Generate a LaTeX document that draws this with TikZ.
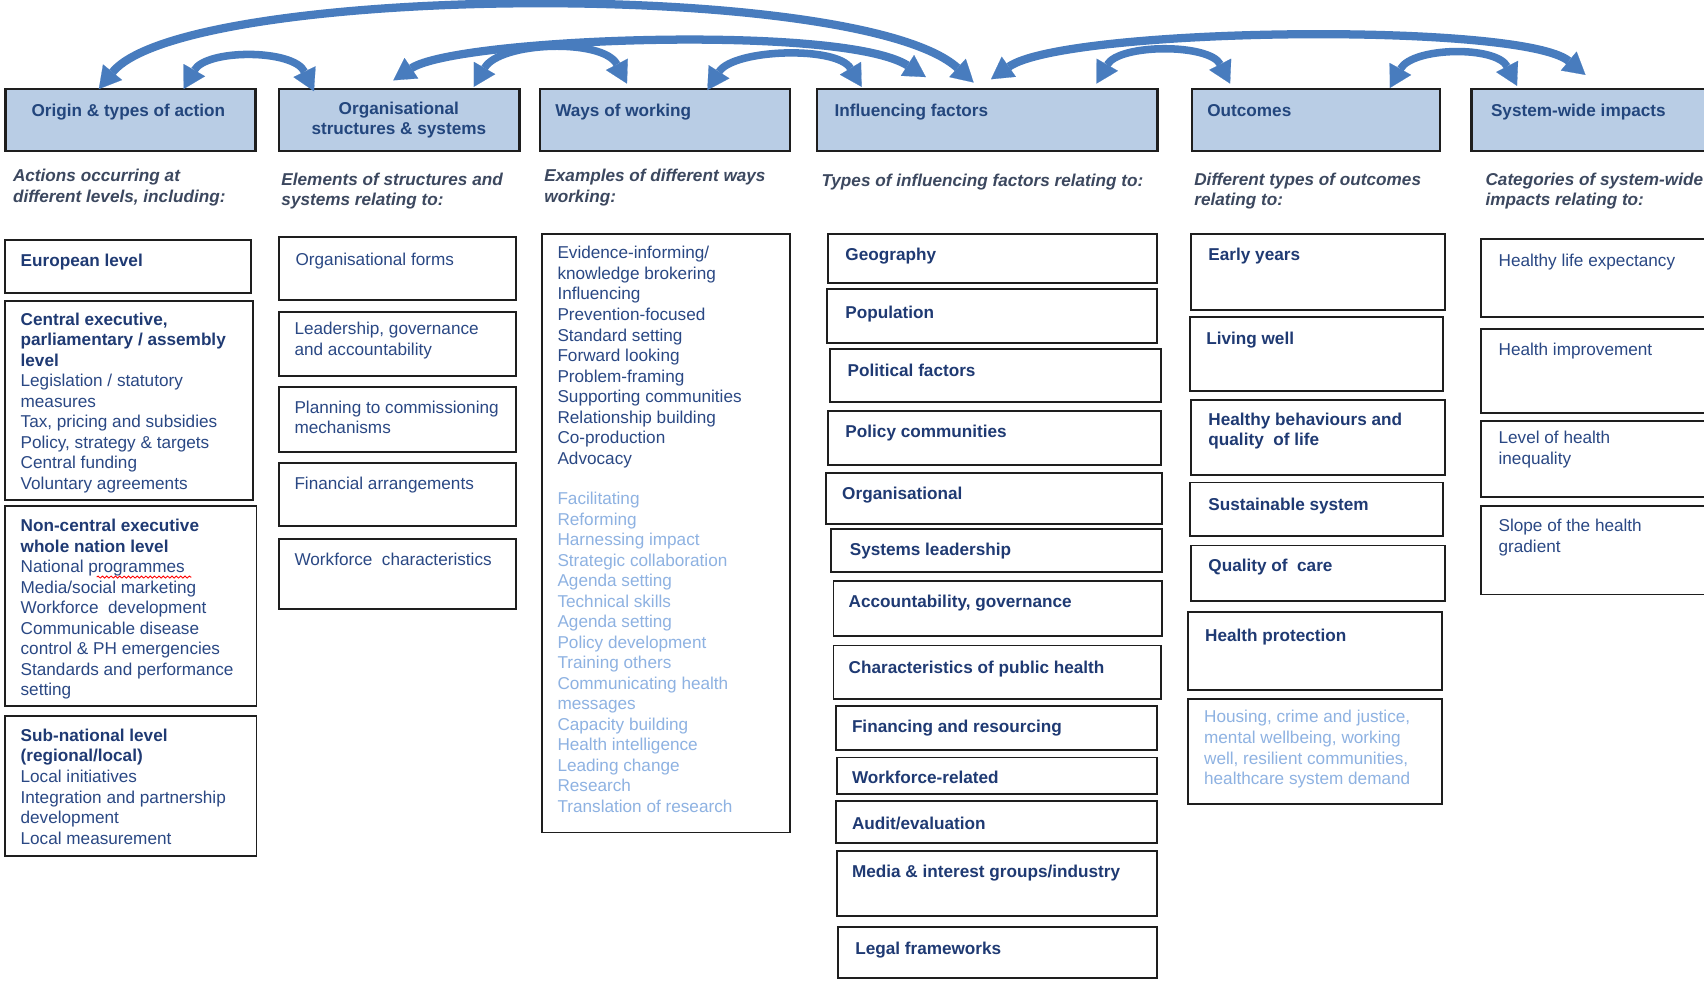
\documentclass[tikz,border=0pt]{standalone}
\usepackage{fontspec}
\setmainfont{Liberation Sans}
\usetikzlibrary{arrows.meta,fit,calc,decorations.pathmorphing}
\definecolor{hdrfill}{RGB}{185,205,229}
\definecolor{hdrtext}{RGB}{35,70,125}
\definecolor{subtext}{RGB}{60,72,95}
\definecolor{navy}{RGB}{31,58,115}
\definecolor{regblue}{RGB}{42,72,132}
\definecolor{lightblue}{RGB}{142,178,226}
\definecolor{arrowblue}{RGB}{72,124,190}
\definecolor{edge}{RGB}{30,30,30}
\newcommand\bodyfont{\fontsize{11.85pt}{14.17pt}\selectfont}
\newcommand\bl[1]{\textbf{\textcolor{navy}{#1}}}
\begin{document}
\begin{tikzpicture}[x=0.75pt,y=-0.75pt,
  hdr/.style={draw=edge, line width=1.6pt, fill=hdrfill, inner sep=0pt},
  bx/.style={draw=edge, line width=1.3pt, fill=white, inner sep=0pt},
  tx/.style={anchor=north west, yshift=4.65pt, inner sep=0pt, outer sep=0pt, align=left, text=regblue, font=\bodyfont, execute at begin node=\strut},
  btx/.style={tx, text=navy, font=\bodyfont\bfseries},
  ltx/.style={tx, text=lightblue},
  htx/.style={tx, text=hdrtext, font=\bodyfont\bfseries},
  stx/.style={tx, text=subtext, font=\bodyfont\bfseries\itshape},
  arr/.style={draw=arrowblue, line width=5.2pt, {Triangle[width=17pt,length=15pt,line width=0.1pt]}-{Triangle[width=17pt,length=15pt,line width=0.1pt]}},
  bigarr/.style={arr, line width=5.7pt},
  squig/.style={draw=red, line width=0.6pt, decorate, decoration={snake, amplitude=0.7pt, segment length=3pt}}
]
\useasboundingbox (0,0) rectangle (1568,904);
\clip (0,0) rectangle (1568,904);
\fill[white] (0,0) rectangle (1568,904);

% ---------- header boxes ----------
\node[hdr, fit={(5,82)(235,139)}] (h1) {};
\node[hdr, fit={(257,82)(478,139)}] (h2) {};
\node[hdr, fit={(497,82)(727,139)}] (h3) {};
\node[hdr, fit={(752,82)(1065,139)}] (h4) {};
\node[hdr, fit={(1097,82)(1325,139)}] (h5) {};
\node[hdr, fit={(1354,82)(1590,139)}] (h6) {};

\node[htx] (h1t) at (29,100) {Origin \& types of action};
\node[htx, anchor=north, align=center] (h2t) at (367,100) {Organisational\\structures \& systems};
\node[htx] (h3t) at (511,100) {Ways of working};
\node[htx] (h4t) at (768,100) {Influencing factors};
\node[htx] (h5t) at (1111,100) {Outcomes};
\node[htx] (h6t) at (1372,100) {System-wide impacts};

% ---------- subtitles ----------
\node[stx] (s1t) at (12,162) {Actions occurring at\\different levels, including:};
\node[stx] (s2t) at (259,165) {Elements of structures and\\systems relating to:};
\node[stx] (s3t) at (501,162) {Examples of different ways\\working:};
\node[stx] (s4t) at (756,165) {Types of influencing factors relating to:};
\node[stx] (s5t) at (1099,165) {Different types of outcomes\\relating to:};
\node[stx] (s6t) at (1367,165) {Categories of system-wide\\impacts relating to:};

% ---------- column 1 ----------
\node[bx, fit={(5,221)(231,270)}] (c1a) {};
\node[btx] (c1at) at (19,238) {European level};
\node[bx, fit={(5,277)(233,460)}] (c1b) {};
\node[tx] (c1bt) at (19,294) {\bl{Central executive,}\\\bl{parliamentary / assembly}\\\bl{level}\\Legislation / statutory\\measures\\Tax, pricing and subsidies\\Policy, strategy \& targets\\Central funding\\Voluntary agreements};
\node[bx, fit={(5,466)(236,650)}] (c1c) {};
\node[tx] (c1ct) at (19,484) {\bl{Non-central executive}\\\bl{whole nation level}\\National programmes\\Media/social marketing\\Workforce\ \ development\\Communicable disease\\control \& PH emergencies\\Standards and performance\\setting};
\draw[squig] (89,531) -- (176,531);
\node[bx, fit={(5,659)(236,788)}] (c1d) {};
\node[tx] (c1dt) at (19,677) {\bl{Sub-national level}\\\bl{(regional/local)}\\Local initiatives\\Integration and partnership\\development\\Local measurement};

% ---------- column 2 ----------
\node[bx, fit={(257,218)(475,276)}] (c2a) {};
\node[tx] (c2at) at (272,237) {Organisational forms};
\node[bx, fit={(257,287)(475,346)}] (c2b) {};
\node[tx] (c2bt) at (271,303) {Leadership, governance\\and accountability};
\node[bx, fit={(257,356)(475,416)}] (c2c) {};
\node[tx] (c2ct) at (271,375) {Planning to commissioning\\mechanisms};
\node[bx, fit={(257,426)(475,484)}] (c2d) {};
\node[tx] (c2dt) at (271,443) {Financial arrangements};
\node[bx, fit={(257,496)(475,560)}] (c2e) {};
\node[tx] (c2et) at (271,513) {Workforce\ \ characteristics};

% ---------- column 3 ----------
\node[bx, fit={(499,215)(727,766)}] (c3) {};
\node[tx] (c3t) at (513,233) {Evidence-informing/\\knowledge brokering\\Influencing\\Prevention-focused\\Standard setting\\Forward looking\\Problem-framing\\Supporting communities\\Relationship building\\Co-production\\Advocacy};
\node[ltx] (c3l) at (513,459) {Facilitating\\Reforming\\Harnessing impact\\Strategic collaboration\\Agenda setting\\Technical skills\\Agenda setting\\Policy development\\Training others\\Communicating health\\messages\\Capacity building\\Health intelligence\\Leading change\\Research\\Translation of research};

% ---------- column 4 ----------
\node[bx, fit={(762,215)(1065,260)}] (f1) {};
\node[btx] (f1t) at (778,233) {Geography};
\node[bx, fit={(761,266)(1065,316)}] (f2) {};
\node[btx] (f2t) at (778,286) {Population};
\node[bx, fit={(764,321)(1068,370)}] (f3) {};
\node[btx] (f3t) at (780,339) {Political factors};
\node[bx, fit={(762,378)(1068,428)}] (f4) {};
\node[btx] (f4t) at (778,396) {Policy communities};
\node[bx, fit={(760,435)(1069,482)}] (f5) {};
\node[btx] (f5t) at (775,453) {Organisational};
\node[bx, fit={(765,487)(1069,526)}] (f6) {};
\node[btx] (f6t) at (782,504) {Systems leadership};
\node[bx, fit={(767,535)(1069,585)}] (f7) {};
\node[btx] (f7t) at (781,552) {Accountability, governance};
\node[bx, fit={(767,594)(1068,643)}] (f8) {};
\node[btx] (f8t) at (781,613) {Characteristics of public health};
\node[bx, fit={(769,650)(1065,690)}] (f9) {};
\node[btx] (f9t) at (784,667) {Financing and resourcing};
\node[bx, fit={(770,697)(1065,731)}] (f10) {};
\node[btx] (f10t) at (784,714) {Workforce-related};
\node[bx, fit={(769,737)(1065,776)}] (f11) {};
\node[btx] (f11t) at (784,756) {Audit/evaluation};
\node[bx, fit={(770,783)(1065,843)}] (f12) {};
\node[btx] (f12t) at (784,800) {Media \& interest groups/industry};
\node[bx, fit={(771,853)(1065,900)}] (f13) {};
\node[btx] (f13t) at (787,871) {Legal frameworks};

% ---------- column 5 ----------
\node[bx, fit={(1096,215)(1330,285)}] (o1) {};
\node[btx] (o1t) at (1112,233) {Early years};
\node[bx, fit={(1095,292)(1328,360)}] (o2) {};
\node[btx] (o2t) at (1110,310) {Living well};
\node[bx, fit={(1096,368)(1330,437)}] (o3) {};
\node[btx] (o3t) at (1112,386) {Healthy behaviours and\\quality\ \ of life};
\node[bx, fit={(1095,444)(1328,493)}] (o4) {};
\node[btx] (o4t) at (1112,463) {Sustainable system};
\node[bx, fit={(1096,502)(1330,553)}] (o5) {};
\node[btx] (o5t) at (1112,519) {Quality of\ \ care};
\node[bx, fit={(1093,563)(1327,635)}] (o6) {};
\node[btx] (o6t) at (1109,583) {Health protection};
\node[bx, fit={(1093,643)(1327,740)}] (o7) {};
\node[ltx] (o7t) at (1108,660) {Housing, crime and justice,\\mental wellbeing, working\\well, resilient communities,\\healthcare system demand};

% ---------- column 6 ----------
\node[bx, fit={(1363,220)(1590,292)}] (w1) {};
\node[tx] (w1t) at (1379,238) {Healthy life expectancy};
\node[bx, fit={(1363,303)(1590,380)}] (w2) {};
\node[tx] (w2t) at (1379,320) {Health improvement};
\node[bx, fit={(1363,387)(1590,457)}] (w3) {};
\node[tx] (w3t) at (1379,403) {Level of health\\inequality};
\node[bx, fit={(1363,466)(1590,547)}] (w4) {};
\node[tx] (w4t) at (1379,484) {Slope of the health\\gradient};

% ---------- arrows ----------
\draw[bigarr] ($(h1.north west)+(87,1)$) .. controls (170,-15) and (790,-20) .. ($(h4.north west)+(145,-5)$);
\draw[bigarr] ($(h2.north west)+(106,-7)$) .. controls (420,35) and (775,22) .. ($(h4.north west)+(101,-10)$);
\draw[arr] ($(h1.north west)+(165,1)$) .. controls (190,45) and (270,45) .. ($(h2.north west)+(33,3)$);
\draw[arr] ($(h2.north west)+(180,-1)$) .. controls (460,38) and (555,35) .. ($(h3.north west)+(81,-4)$);
\draw[arr] ($(h3.north west)+(155,2)$) .. controls (675,45) and (770,42) .. ($(h4.north west)+(42,-1)$);
\draw[bigarr] ($(h4.north west)+(161,-8)$) .. controls (980,25) and (1400,20) .. ($(h6.north west)+(106,-12)$);
\draw[arr] ($(h4.north west)+(258,-4)$) .. controls (1030,40) and (1113,40) .. ($(h5.north west)+(36,-4)$);
\draw[arr] ($(h5.north west)+(183,0)$) .. controls (1300,43) and (1377,42) .. ($(h6.north west)+(43,-2)$);
\end{tikzpicture}
\end{document}
